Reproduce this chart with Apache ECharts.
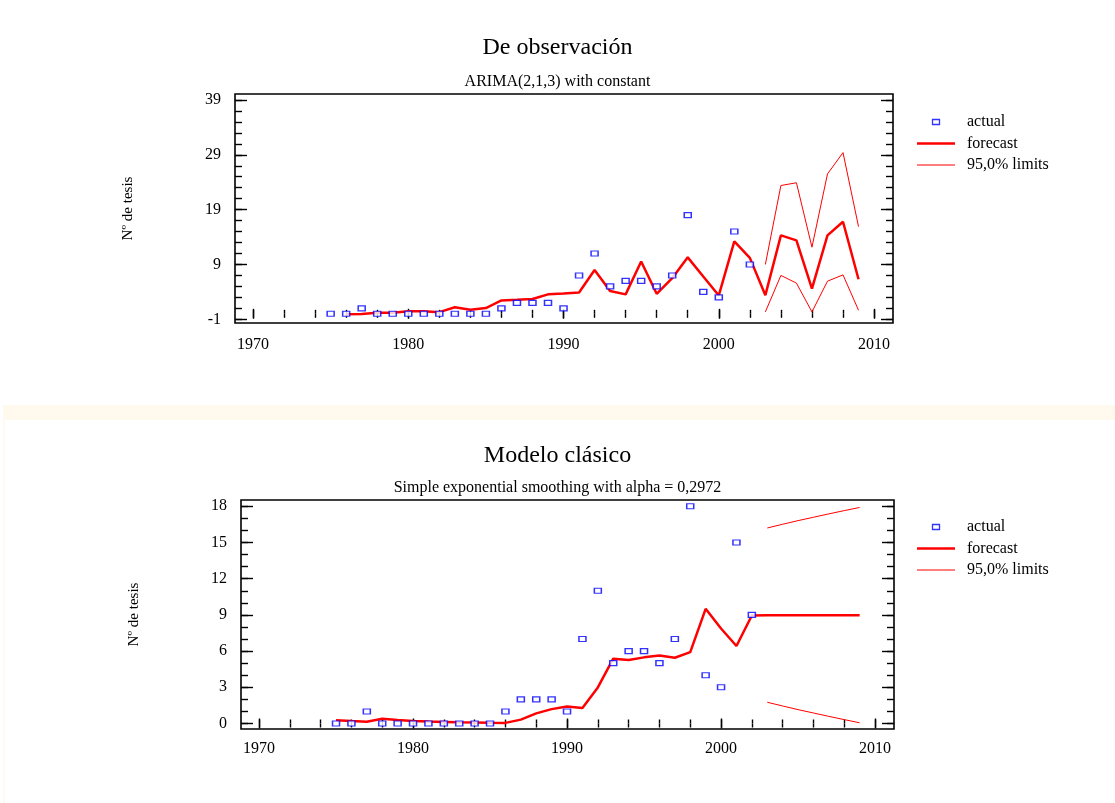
<!DOCTYPE html>
<html>
<head>
<meta charset="utf-8">
<script src="https://cdn.jsdelivr.net/npm/echarts@6/dist/echarts.min.js"></script>
<style>
html,body{margin:0;padding:0;background:#ffffff;}
#chart{width:1115px;height:803px;}
</style>
</head>
<body>
<div id="chart"></div>
<script>
// ---------------- data ----------------
const actualYears = [1975,1976,1977,1978,1979,1980,1981,1982,1983,1984,1985,1986,1987,1988,1989,1990,1991,1992,1993,1994,1995,1996,1997,1998,1999,2000,2001,2002];
const actual = [0,0,1,0,0,0,0,0,0,0,0,1,2,2,2,1,7,11,5,6,6,5,7,18,4,3,15,9];

const arimaYears = [1976,1977,1978,1979,1980,1981,1982,1983,1984,1985,1986,1987,1988,1989,1990,1991,1992,1993,1994,1995,1996,1997,1998,1999,2000,2001,2002,2003,2004,2005,2006,2007,2008,2009];
const arimaForecast = [-0.1,-0.05,0.2,0.2,0.45,0.45,0.3,1.2,0.75,1.05,2.45,2.55,2.7,3.55,3.7,3.9,8.0,4.15,3.55,9.55,3.65,6.5,10.3,6.8,3.35,13.2,10.2,3.4,14.3,13.4,4.6,14.3,16.8,6.3];

const limitYears = [2003,2004,2005,2006,2007,2008,2009];
const arimaUpper = [9.0,23.4,23.9,12.15,25.5,29.4,15.9];
const arimaLower = [0.35,7.0,5.6,0.35,5.95,7.1,0.65];

const sesYears = [1975,1976,1977,1978,1979,1980,1981,1982,1983,1984,1985,1986,1987,1988,1989,1990,1991,1992,1993,1994,1995,1996,1997,1998,1999,2000,2001,2002,2003,2004,2005,2006,2007,2008,2009];
const sesForecast = [0.27,0.2,0.14,0.39,0.29,0.21,0.16,0.13,0.1,0.08,0.06,0.05,0.32,0.84,1.19,1.4,1.29,2.99,5.37,5.26,5.48,5.63,5.45,5.91,9.5,7.87,6.42,8.95,8.98,8.98,8.98,8.98,8.98,8.98,8.98];
const sesUpper = [16.2,16.51,16.81,17.09,17.37,17.64,17.9];
const sesLower = [1.76,1.45,1.15,0.87,0.59,0.32,0.06];

const xTickLabels = [1970,1980,1990,2000,2010];
const topYTickLabels = [-1,9,19,29,39];
const bottomYTickLabels = [0,3,6,9,12,15,18];

const titles = ['De observación','Modelo clásico'];
const subtitles = ['ARIMA(2,1,3) with constant','Simple exponential smoothing with alpha = 0,2972'];
const yName = 'Nº de tesis';
const legendNames = ['actual','forecast','95,0% limits'];

// ---------------- helpers ----------------
const FONT = "'Liberation Serif','Times New Roman',serif";
function range(a, b, step) { const r = []; for (let v = a; v <= b + 1e-9; v += step) r.push(v); return r; }
const xMinor = range(1970, 2010, 2);
const topYMinor = range(-1, 39, 2);
const bottomYMinor = range(0, 18, 1);
function pairs(xs, ys) { return xs.map((x, i) => [x, ys[i]]); }
const plain = v => String(v);

const tickLine = { color: '#000', width: 1.4 };

function xAxesFor(gi, min, max, labelMargin) {
  const base = { type: 'value', gridIndex: gi, min: min, max: max, axisLine: { show: false }, splitLine: { show: false } };
  return [
    Object.assign({}, base, { position: 'bottom',
      axisTick: { show: true, inside: true, length: 5, customValues: xTickLabels, lineStyle: tickLine },
      axisLabel: { show: true, customValues: xTickLabels, formatter: plain, margin: labelMargin, color: '#000', fontFamily: FONT, fontSize: 16 } }),
    Object.assign({}, base, { position: 'bottom',
      axisTick: { show: true, inside: true, length: 4, customValues: xMinor, lineStyle: tickLine },
      axisLabel: { show: false } }),
    Object.assign({}, base, { position: 'top',
      axisTick: { show: true, inside: true, length: 5, customValues: xTickLabels, lineStyle: tickLine },
      axisLabel: { show: false } }),
    Object.assign({}, base, { position: 'top',
      axisTick: { show: true, inside: true, length: 4, customValues: xMinor, lineStyle: tickLine },
      axisLabel: { show: false } })
  ];
}
function yAxesFor(gi, min, max, major, minor) {
  const base = { type: 'value', gridIndex: gi, min: min, max: max, axisLine: { show: false }, splitLine: { show: false } };
  return [
    Object.assign({}, base, { position: 'left',
      name: yName, nameLocation: 'middle', nameGap: 99, nameRotate: 90,
      nameTextStyle: { fontFamily: FONT, fontSize: 15, color: '#000' },
      axisTick: { show: true, inside: true, length: 12, customValues: major, lineStyle: tickLine },
      axisLabel: { show: true, customValues: major, formatter: plain, margin: 14, color: '#000', fontFamily: FONT, fontSize: 16 } }),
    Object.assign({}, base, { position: 'left',
      axisTick: { show: true, inside: true, length: 7, customValues: minor, lineStyle: tickLine },
      axisLabel: { show: false } }),
    Object.assign({}, base, { position: 'right',
      axisTick: { show: true, inside: true, length: 12, customValues: major, lineStyle: tickLine },
      axisLabel: { show: false } }),
    Object.assign({}, base, { position: 'right',
      axisTick: { show: true, inside: true, length: 7, customValues: minor, lineStyle: tickLine },
      axisLabel: { show: false } })
  ];
}

const RED = '#ff0000', BLUE = '#0000ff';
function scatterSeries(xi, yi, data) {
  return { type: 'scatter', name: legendNames[0], xAxisIndex: xi, yAxisIndex: yi, data: data,
    symbol: 'rect', symbolSize: [7, 5], z: 5,
    itemStyle: { color: '#ffffff', borderColor: BLUE, borderWidth: 1.3 } };
}
function lineSeries(name, xi, yi, data, w) {
  return { type: 'line', name: name, xAxisIndex: xi, yAxisIndex: yi, data: data,
    symbol: 'none', showSymbol: false, z: 3,
    lineStyle: { color: RED, width: w }, itemStyle: { color: RED } };
}
function legendFor(top) {
  return { orient: 'vertical', left: 912, top: top, itemWidth: 38, itemHeight: 5, itemGap: 5.5,
    selectedMode: false,
    textStyle: { fontFamily: FONT, fontSize: 16, color: '#000', lineHeight: 16, padding: [0, 0, 0, 7] },
    data: [
      { name: legendNames[0], icon: 'path://M0,0h7v5h-7z', itemStyle: { color: '#ffffff', borderColor: BLUE, borderWidth: 1.3 } },
      { name: legendNames[1], icon: 'path://M0,0h38v2.5h-38z', itemStyle: { color: RED, borderWidth: 0 } },
      { name: legendNames[2], icon: 'path://M0,0h38v1h-38z', itemStyle: { color: RED, borderWidth: 0 } }
    ] };
}
function titleFor(text, top, size, padLeft) {
  return { text: text, left: 'center', top: top, padding: [0, 0, 0, padLeft],
    textStyle: { fontFamily: FONT, fontSize: size, fontWeight: 'normal', color: '#000' } };
}

const option = {
  animation: false,
  backgroundColor: '#ffffff',
  graphic: [
    { type: 'rect', shape: { x: 3, y: 405, width: 1112, height: 15 }, style: { fill: '#fff9ee' }, z: -10 },
    { type: 'rect', shape: { x: 3, y: 420, width: 2, height: 383 }, style: { fill: '#fff9ee' }, z: -10 }
  ],
  title: [
    titleFor(titles[0], 36, 24, 15),
    titleFor(subtitles[0], 74, 16, 15),
    titleFor(titles[1], 444, 24, 19),
    titleFor(subtitles[1], 480, 16, 19)
  ],
  legend: [legendFor(109), legendFor(514)],
  grid: [
    { left: 235, top: 94, width: 658, height: 229, show: true, borderColor: '#000', borderWidth: 1.6, backgroundColor: 'transparent' },
    { left: 241, top: 500, width: 653, height: 229, show: true, borderColor: '#000', borderWidth: 1.6, backgroundColor: 'transparent' }
  ],
  xAxis: xAxesFor(0, 1968.84, 2011.22, 14).concat(xAxesFor(1, 1968.83, 2011.23, 12)),
  yAxis: yAxesFor(0, -1.675, 40.09, topYTickLabels, topYMinor).concat(yAxesFor(1, -0.456, 18.52, bottomYTickLabels, bottomYMinor)),
  series: [
    scatterSeries(0, 0, pairs(actualYears, actual)),
    lineSeries(legendNames[1], 0, 0, pairs(arimaYears, arimaForecast), 2.5),
    lineSeries(legendNames[2], 0, 0, pairs(limitYears, arimaUpper), 1),
    lineSeries(legendNames[2], 0, 0, pairs(limitYears, arimaLower), 1),
    scatterSeries(4, 4, pairs(actualYears, actual)),
    lineSeries(legendNames[1], 4, 4, pairs(sesYears, sesForecast), 2.5),
    lineSeries(legendNames[2], 4, 4, pairs(limitYears, sesUpper), 1),
    lineSeries(legendNames[2], 4, 4, pairs(limitYears, sesLower), 1)
  ]
};

const chart = echarts.init(document.getElementById('chart'), null, { renderer: 'canvas' });
chart.setOption(option);
</script>
</body>
</html>
